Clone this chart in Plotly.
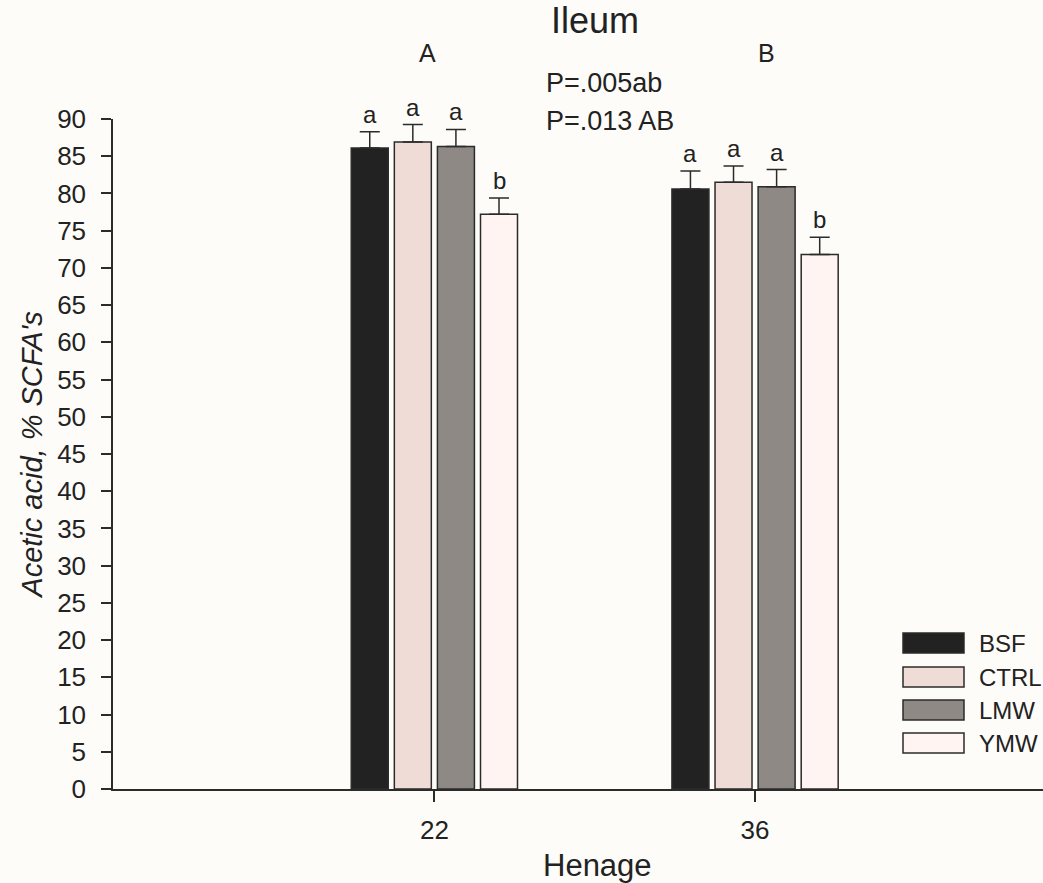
import plotly.graph_objects as go

# ---------------- data ----------------
ages = [22, 36]
groups = ["BSF", "CTRL", "LMW", "YMW"]
means = {
    "BSF":  [86.1, 80.6],
    "CTRL": [86.9, 81.5],
    "LMW":  [86.3, 80.9],
    "YMW":  [77.2, 71.8],
}
errors = {
    "BSF":  [2.2, 2.4],
    "CTRL": [2.35, 2.2],
    "LMW":  [2.3, 2.3],
    "YMW":  [2.2, 2.3],
}
letters = {
    "BSF":  ["a", "a"],
    "CTRL": ["a", "a"],
    "LMW":  ["a", "a"],
    "YMW":  ["b", "b"],
}
age_letters = ["A", "B"]
p_texts = ["P=.005ab", "P=.013 AB"]
y_ticks = list(range(0, 95, 5))

# ---------------- styles ----------------
colors = {"BSF": "#222222", "CTRL": "#f0dcd6", "LMW": "#8e8985", "YMW": "#fff4f2"}
BG = "#fdfcf9"
LINE = "#2b2b2b"
TXT = "#222222"
FONT = "Liberation Sans, Arial, sans-serif"

W, H = 1043, 883
ML, MR, MT, MB = 113, 0, 119, 94
PW, PH = W - ML - MR, H - MT - MB


def px_x(px):
    return (px - ML) / PW


def px_y(py):
    return (H - MB - py) / PH


slot = 1.881
bar_w = 1.615

fig = go.Figure()
for i, g in enumerate(groups):
    off = (i - 2) * slot + (slot - bar_w) / 2
    fig.add_trace(go.Bar(
        x=ages, y=means[g], name=g,
        width=bar_w, offset=off,
        marker=dict(color=colors[g], line=dict(color=LINE, width=1.5)),
        error_y=dict(type="data", symmetric=False, array=errors[g],
                     arrayminus=[0] * len(ages), color=LINE,
                     thickness=1.5, width=10),
        showlegend=False,
    ))
    for j, a in enumerate(ages):
        fig.add_annotation(
            x=a + off + bar_w / 2, y=means[g][j] + errors[g][j],
            xref="x", yref="y", text=letters[g][j], showarrow=False,
            yanchor="bottom", yshift=2,
            font=dict(family=FONT, size=24, color=TXT),
        )

# group letters A / B
for px, t in zip([427, 766], age_letters):
    fig.add_annotation(x=px_x(px), y=px_y(53), xref="paper", yref="paper",
                       text=t, showarrow=False, xanchor="center", yanchor="middle",
                       font=dict(family=FONT, size=25, color=TXT))

# P values
for py, t in zip([83, 121], p_texts):
    fig.add_annotation(x=px_x(544), y=px_y(py), xref="paper", yref="paper",
                       text=t, showarrow=False, xanchor="left", yanchor="middle",
                       font=dict(family=FONT, size=27, color=TXT))

# title
fig.add_annotation(x=px_x(595), y=px_y(21), xref="paper", yref="paper",
                   text="Ileum", showarrow=False, xanchor="center", yanchor="middle",
                   font=dict(family=FONT, size=36, color=TXT))

# x axis title
fig.add_annotation(x=px_x(597), y=px_y(865), xref="paper", yref="paper",
                   text="Henage", showarrow=False, xanchor="center", yanchor="middle",
                   font=dict(family=FONT, size=31, color=TXT))

# manual legend
legend_y = [643, 677, 710, 743]
for g, cy in zip(groups, legend_y):
    fig.add_shape(type="rect", xref="paper", yref="paper",
                  x0=px_x(903), x1=px_x(964), y0=px_y(cy - 10), y1=px_y(cy + 10),
                  fillcolor=colors[g], line=dict(color=LINE, width=1.5))
    fig.add_annotation(x=px_x(977), y=px_y(cy), xref="paper", yref="paper",
                       text=g, showarrow=False, xanchor="left", yanchor="middle",
                       font=dict(family=FONT, size=24, color=TXT))

fig.update_layout(
    width=W, height=H,
    margin=dict(l=ML, r=MR, t=MT, b=MB, autoexpand=False),
    paper_bgcolor=BG, plot_bgcolor=BG,
    barmode="overlay",
    showlegend=False,
    font=dict(family=FONT, color=TXT),
    xaxis=dict(
        range=[7.97, 48.57], tickvals=ages, ticktext=[str(a) for a in ages],
        showline=True, linecolor=LINE, linewidth=1.5,
        ticks="outside", ticklen=11, tickwidth=1.5, tickcolor=LINE,
        showgrid=False, zeroline=False,
        tickfont=dict(family=FONT, size=26, color=TXT),
        ticklabelstandoff=6,
    ),
    yaxis=dict(
        range=[0, 90], tickvals=y_ticks,
        showline=True, linecolor=LINE, linewidth=1.5,
        ticks="outside", ticklen=10, tickwidth=1.5, tickcolor=LINE,
        showgrid=False, zeroline=False,
        tickfont=dict(family=FONT, size=26, color=TXT),
        ticklabelstandoff=10,
        title=dict(text="<i>Acetic acid, % SCFA's</i>",
                   font=dict(family=FONT, size=29, color=TXT), standoff=6),
    ),
)

fig.write_html("out.html")
